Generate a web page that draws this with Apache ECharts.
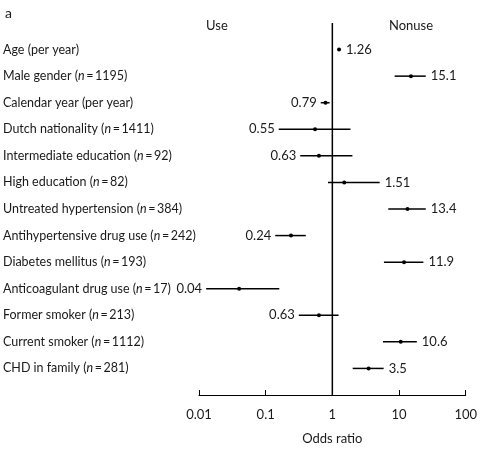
<!DOCTYPE html>
<html><head><meta charset="utf-8">
<script src="https://cdn.jsdelivr.net/npm/echarts@6/dist/echarts.min.js"></script>
<style>html,body{margin:0;padding:0;background:#fff}#c{width:480px;height:450px}</style>
</head><body><div id="c"></div>
<script>
var categories = ['Age (per year)', 'Male gender', 'Calendar year (per year)', 'Dutch nationality',
  'Intermediate education', 'High education', 'Untreated hypertension', 'Antihypertensive drug use',
  'Diabetes mellitus', 'Anticoagulant drug use', 'Former smoker', 'Current smoker', 'CHD in family'];
var counts = [null, 1195, null, 1411, 92, 82, 384, 242, 193, 17, 213, 1112, 281];
var oddsRatio = [1.26, 15.1, 0.79, 0.55, 0.63, 1.51, 13.4, 0.24, 11.9, 0.04, 0.63, 10.6, 3.5];
var ciLow = [1.22, 8.6, 0.67, 0.157, 0.33, 0.86, 6.9, 0.139, 5.94, 0.0128, 0.314, 5.74, 2.02];
var ciHigh = [1.30, 25.2, 0.91, 1.87, 2.0, 5.13, 25.2, 0.40, 23.2, 0.16, 1.24, 18.5, 5.88];
var xTicks = [0.01, 0.1, 1, 10, 100];

var FONT = 'Lato';
var TXT = '#1a1a1a';

var data = oddsRatio.map(function (v, i) { return [v, i, ciLow[i], ciHigh[i]]; });

var chart = echarts.init(document.getElementById('c'));
chart.setOption({
  animation: false,
  textStyle: { fontFamily: FONT },
  grid: { left: 197, right: 13, top: 23, bottom: 47 },
  graphic: [
    { type: 'text', left: 5, top: 6, style: { text: 'a', font: '14px ' + FONT, fill: TXT } },
    { type: 'text', left: 206, top: 19, style: { text: 'Use', font: '13px ' + FONT, fill: TXT } },
    { type: 'text', left: 389, top: 19, style: { text: 'Nonuse', font: '13px ' + FONT, fill: TXT } }
  ],
  xAxis: {
    type: 'log', logBase: 10, min: 0.01, max: 100,
    axisLine: { show: true, onZero: false, lineStyle: { color: '#000', width: 1 } },
    axisTick: { show: true, inside: true, length: 5, lineStyle: { color: '#000' } },
    splitLine: { show: false },
    axisLabel: {
      color: TXT, fontSize: 13, margin: 13, fontFamily: FONT,
      formatter: function (v) {
        for (var k = 0; k < xTicks.length; k++) {
          if (Math.abs(Math.log10(v) - Math.log10(xTicks[k])) < 1e-6) return String(xTicks[k]);
        }
        return '';
      }
    },
    name: 'Odds ratio', nameLocation: 'middle', nameGap: 37,
    nameTextStyle: { color: TXT, fontSize: 13, fontFamily: FONT }
  },
  yAxis: {
    type: 'value', inverse: true, min: -1, max: 13, interval: 1,
    axisLine: { show: false }, axisTick: { show: false }, splitLine: { show: false },
    axisLabel: {
      align: 'left', margin: 196, color: TXT, fontSize: 12.5, fontFamily: FONT,
      formatter: function (v) {
        var i = Math.round(v);
        if (i < 0 || i >= categories.length) return '';
        if (counts[i] == null) return '{a|' + categories[i] + '}';
        return '{a|' + categories[i] + ' (}{i|n}{a|\u2009=\u2009' + counts[i] + ')}';
      },
      rich: {
        a: { color: TXT, fontSize: 12.5, fontFamily: FONT },
        i: { color: TXT, fontSize: 12.5, fontFamily: FONT, fontStyle: 'italic' }
      }
    }
  },
  series: [
    {
      type: 'line', data: [[1, -1], [1, 13]], symbol: 'none', silent: true,
      lineStyle: { color: '#000', width: 1.5 }
    },
    {
      type: 'custom', data: data, silent: true,
      renderItem: function (params, api) {
        var y = api.value(1);
        var p = api.coord([api.value(0), y]);
        var lo = api.coord([api.value(2), y]);
        var hi = api.coord([api.value(3), y]);
        var v = api.value(0);
        var right = v > 1;
        return {
          type: 'group',
          children: [
            { type: 'line', shape: { x1: lo[0], y1: lo[1], x2: hi[0], y2: hi[1] },
              style: { stroke: '#000', lineWidth: 1.5 } },
            { type: 'circle', shape: { cx: p[0], cy: p[1], r: 2 }, style: { fill: '#000' } },
            { type: 'text', x: right ? Math.max(hi[0], p[0] + 2) + 5 : lo[0] - 4, y: p[1],
              style: { text: String(oddsRatio[params.dataIndex]), font: '13px ' + FONT, fill: TXT,
                align: right ? 'left' : 'right', verticalAlign: 'middle' } }
          ]
        };
      }
    }
  ]
});
</script>
</body></html>
